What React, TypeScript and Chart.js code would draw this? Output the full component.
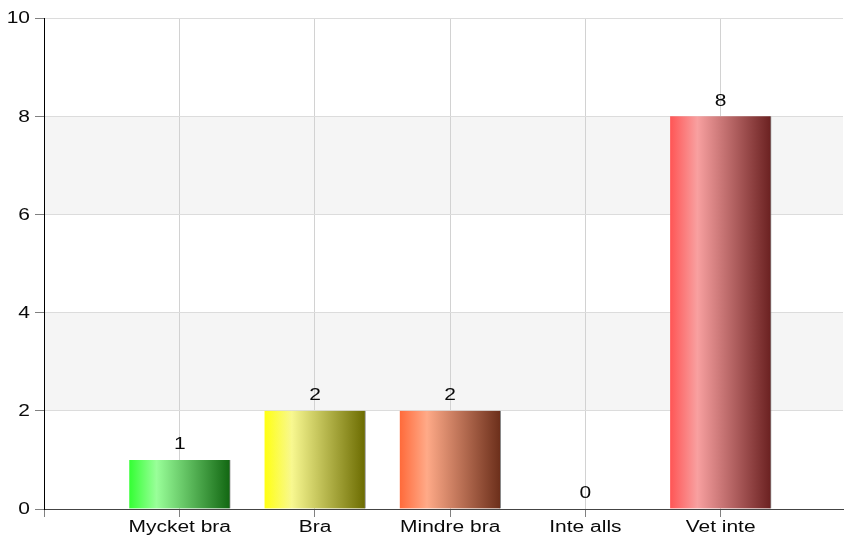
import React, { useEffect, useRef } from "react";
import { Chart, registerables } from "chart.js";

Chart.register(...registerables);

// ---- data ----
const categories = ["Mycket bra", "Bra", "Mindre bra", "Inte alls", "Vet inte"];
const values = [1, 2, 2, 0, 8];
const yTicks = [0, 2, 4, 6, 8, 10];
const bandRanges = [
  [6, 8],
  [2, 4],
];
// gradient colours per bar: [left, light, dark]
const colorLeft = ["#33ff33", "#ffff11", "#ff6a3a", "#ff6060", "#ff5555"];
const colorLight = ["#99ff99", "#f8f890", "#ffaa88", "#f8a0a0", "#f8a0a0"];
const colorDark = ["#116611", "#6b6b00", "#6b2e1a", "#6b2020", "#6a2020"];

const FONT = '16px "Liberation Sans", Arial, sans-serif';
const STRETCH = 1.31;
const BAR_W = 101;

function drawText(
  ctx: CanvasRenderingContext2D,
  text: string,
  x: number,
  y: number,
  align: CanvasTextAlign
) {
  ctx.save();
  ctx.translate(x, y);
  ctx.scale(STRETCH, 1);
  ctx.font = FONT;
  ctx.fillStyle = "#0a0a0a";
  ctx.textAlign = align;
  ctx.textBaseline = "middle";
  ctx.fillText(text, 0, 0);
  ctx.restore();
}

const bandsPlugin = {
  id: "bands",
  beforeDraw(chart: any) {
    const { ctx, chartArea, scales } = chart;
    const y = scales.y;
    ctx.save();
    ctx.fillStyle = "#f5f5f5";
    for (const [a, b] of bandRanges) {
      const top = y.getPixelForValue(b);
      const bot = y.getPixelForValue(a);
      ctx.fillRect(chartArea.left, top, chartArea.right - chartArea.left, bot - top);
    }
    ctx.restore();
  },
};

const textPlugin = {
  id: "texts",
  afterDraw(chart: any) {
    const { ctx, scales, chartArea } = chart;
    const x = scales.x;
    const y = scales.y;
    yTicks.forEach((v) => {
      drawText(ctx, String(v), chartArea.left - 14, y.getPixelForValue(v) + 1, "right");
    });
    categories.forEach((c, i) => {
      drawText(ctx, c, x.getPixelForValue(i + 1), chartArea.bottom + 18.5, "center");
    });
    values.forEach((v, i) => {
      drawText(ctx, String(v), x.getPixelForValue(i + 1), y.getPixelForValue(v) - 15, "center");
    });
  },
};

export default function App() {
  const ref = useRef<HTMLCanvasElement | null>(null);
  useEffect(() => {
    if (!ref.current) return;
    const chart = new Chart(ref.current, {
      type: "bar",
      data: {
        datasets: [
          {
            data: values.map((v, i) => ({ x: i + 1, y: v })),
            barThickness: BAR_W,
            backgroundColor: (c: any) => {
              const ch = c.chart;
              const xs = ch.scales?.x;
              const i = c.dataIndex ?? 0;
              if (!xs || c.type !== "data") return colorLeft[i] || colorLeft[0];
              const cx = xs.getPixelForValue(i + 1);
              if (!isFinite(cx)) return colorLeft[i];
              const g = ch.ctx.createLinearGradient(cx - BAR_W / 2, 0, cx + BAR_W / 2, 0);
              g.addColorStop(0, colorLeft[i]);
              g.addColorStop(0.27, colorLight[i]);
              g.addColorStop(1, colorDark[i]);
              return g;
            },
            borderColor: "rgba(110,110,110,0.8)",
            borderWidth: { top: 0, left: 0, bottom: 0, right: 1 },
            borderSkipped: false,
          } as any,
        ],
      },
      options: {
        responsive: false,
        animation: false,
        layout: { padding: { top: 18, right: 1, left: 0, bottom: 0 } },
        plugins: { legend: { display: false }, tooltip: { enabled: false } },
        scales: {
          x: {
            type: "linear",
            min: -0.004,
            max: 5.905,
            offset: false,
            afterBuildTicks: (s: any) => {
              s.ticks = [s.min, ...categories.map((_, i) => i + 1)].map((v) => ({ value: v }));
            },
            afterFit: (s: any) => {
              s.height = 26;
            },
            ticks: { display: false },
            grid: {
              offset: false,
              color: (c: any) => (c.tick && c.tick.value < 0.5 ? "rgba(0,0,0,0)" : "#d2d2d2"),
              tickColor: "#808080",
              tickLength: 8,
              lineWidth: 1,
            },
            border: { display: true, color: "#444", width: 1 },
          },
          y: {
            type: "linear",
            min: 0,
            max: 10,
            afterBuildTicks: (s: any) => {
              s.ticks = yTicks.map((v) => ({ value: v }));
            },
            afterFit: (s: any) => {
              s.width = 44;
            },
            ticks: { display: false },
            grid: {
              color: (c: any) => (c.tick && c.tick.value === 0 ? "rgba(0,0,0,0)" : "#dcdcdc"),
              tickColor: "#808080",
              tickLength: 9,
              lineWidth: 1,
            },
            border: { display: true, color: "#000", width: 1 },
          },
        },
      } as any,
      plugins: [bandsPlugin, textPlugin],
    });
    chart.update();
    return () => chart.destroy();
  }, []);
  return (
    <div style={{ position: "absolute", left: 0, top: 0, width: 844, height: 535 }}>
      <canvas ref={ref} width={844} height={535} style={{ display: "block" }} />
    </div>
  );
}
